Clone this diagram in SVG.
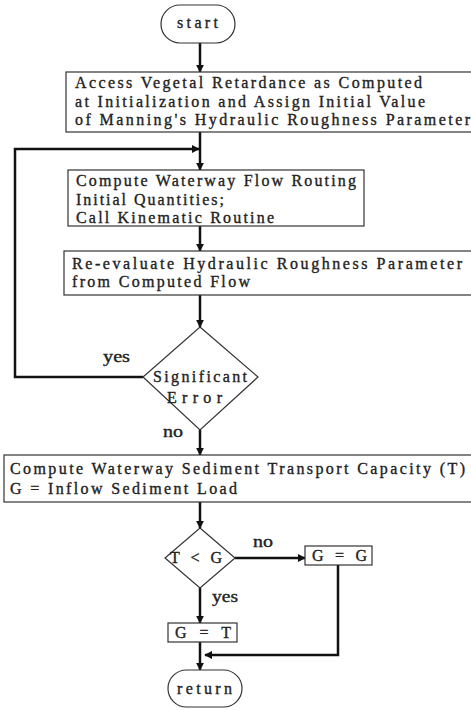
<svg xmlns="http://www.w3.org/2000/svg" width="471" height="710" viewBox="0 0 471 710">
<defs>
<style>
.box{fill:#fff;stroke:#333;stroke-width:1.2}
.t{font-family:"Liberation Serif","DejaVu Serif",serif;font-size:16px;fill:#222;stroke:#222;stroke-width:0.35}
.c{fill:none;stroke:#111;stroke-width:2.5}
</style>
<marker id="ah" viewBox="0 0 10 10" refX="9" refY="5" markerWidth="3.2" markerHeight="3.2" orient="auto" markerUnits="strokeWidth">
<path d="M0,0 L10,5 L0,10 z" fill="#111"/>
</marker>
</defs>
<rect width="471" height="710" fill="#fff"/>
<g id="connectors">
<line class="c" x1="200" y1="43" x2="200" y2="72" marker-end="url(#ah)"/>
<line class="c" x1="200" y1="132" x2="200" y2="170" marker-end="url(#ah)"/>
<polyline class="c" points="143,377 15,377 15,149 199,149" marker-end="url(#ah)"/>
<line class="c" x1="200" y1="226" x2="200" y2="251" marker-end="url(#ah)"/>
<line class="c" x1="200" y1="295" x2="200" y2="327" marker-end="url(#ah)"/>
<line class="c" x1="200" y1="430" x2="200" y2="455" marker-end="url(#ah)"/>
<line class="c" x1="200" y1="502" x2="200" y2="528" marker-end="url(#ah)"/>
<line class="c" x1="235" y1="558" x2="305" y2="558" marker-end="url(#ah)"/>
<polyline class="c" points="338,565 338,655 205,655" marker-end="url(#ah)"/>
<line class="c" x1="200" y1="588" x2="200" y2="623" marker-end="url(#ah)"/>
<line class="c" x1="200" y1="642" x2="200" y2="670" marker-end="url(#ah)"/>
<text class="t" x="103" y="362" textLength="27" lengthAdjust="spacingAndGlyphs">yes</text>
<text class="t" x="163" y="437" textLength="20" lengthAdjust="spacingAndGlyphs">no</text>
<text class="t" x="253" y="547" textLength="20" lengthAdjust="spacingAndGlyphs">no</text>
<text class="t" x="212" y="602" textLength="26" lengthAdjust="spacingAndGlyphs">yes</text>
</g>
<g id="start">
<rect class="box" x="161" y="5" width="74" height="38" rx="19"/>
<text class="t" x="177" y="28" textLength="41" lengthAdjust="spacing">start</text>
</g>
<g id="access">
<rect class="box" x="66" y="72" width="410" height="60"/>
<text class="t" x="75" y="88" textLength="347" lengthAdjust="spacing">Access Vegetal Retardance as Computed</text>
<text class="t" x="75" y="107" textLength="350" lengthAdjust="spacing">at Initialization and Assign Initial Value</text>
<text class="t" x="75" y="125" textLength="395" lengthAdjust="spacing">of Manning's Hydraulic Roughness Parameter</text>
</g>
<g id="compute-flow">
<rect class="box" x="68" y="170" width="296" height="56"/>
<text class="t" x="76" y="186" textLength="280" lengthAdjust="spacing">Compute Waterway Flow Routing</text>
<text class="t" x="76" y="205" textLength="148" lengthAdjust="spacing">Initial Quantities;</text>
<text class="t" x="76" y="223" textLength="198" lengthAdjust="spacing">Call Kinematic Routine</text>
</g>
<g id="reevaluate">
<rect class="box" x="64" y="251" width="412" height="44"/>
<text class="t" x="72" y="269" textLength="390" lengthAdjust="spacing">Re-evaluate Hydraulic Roughness Parameter</text>
<text class="t" x="72" y="287" textLength="178" lengthAdjust="spacing">from Computed Flow</text>
</g>
<g id="significant-error">
<polygon class="box" points="200,327 258,377 200,430 143,377"/>
<text class="t" x="153" y="382" textLength="94" lengthAdjust="spacing">Significant</text>
<text class="t" x="167" y="403" textLength="55" lengthAdjust="spacing">Error</text>
</g>
<g id="sediment">
<rect class="box" x="4" y="455" width="472" height="47"/>
<text class="t" x="10" y="474" textLength="455" lengthAdjust="spacing">Compute Waterway Sediment Transport Capacity (T)</text>
<text class="t" x="10" y="494" textLength="227" lengthAdjust="spacing">G = Inflow Sediment Load</text>
</g>
<g id="t-less-g">
<polygon class="box" points="200,528 235,558 200,588 165,558"/>
<text class="t" x="170" y="563" textLength="52" lengthAdjust="spacing">T &lt; G</text>
</g>
<g id="g-eq-g">
<rect class="box" x="305" y="546" width="67" height="19"/>
<text class="t" x="312" y="561" textLength="55" lengthAdjust="spacing">G = G</text>
</g>
<g id="g-eq-t">
<rect class="box" x="168" y="623" width="69" height="19"/>
<text class="t" x="175" y="638" textLength="56" lengthAdjust="spacing">G = T</text>
</g>
<g id="return">
<rect class="box" x="168" y="670" width="74" height="37" rx="18.5"/>
<text class="t" x="177" y="694" textLength="55" lengthAdjust="spacing">return</text>
</g>
</svg>
